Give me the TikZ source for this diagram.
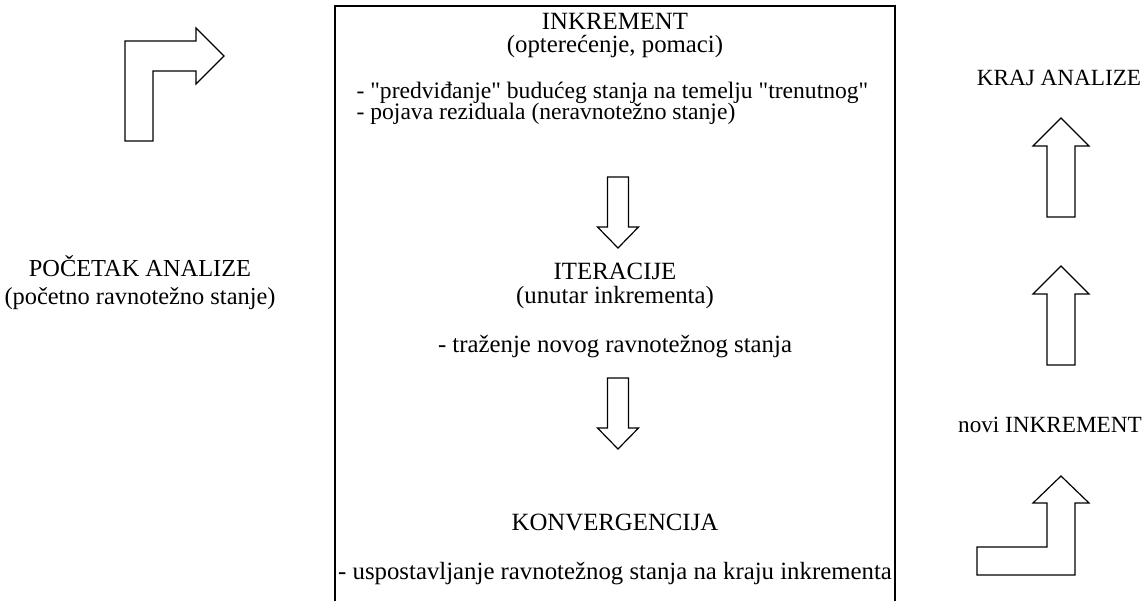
\documentclass[tikz,border=0pt]{standalone}
\usepackage{fontspec}
\setmainfont{Liberation Serif}
\begin{document}
\begin{tikzpicture}[x=0.5pt,y=-0.5pt,line join=miter,line width=0.6pt,font=\fontsize{12.4}{14}\selectfont]
	%%%%%%%%%STRELICE
	\tikzset{strelica-dolje/.pic={
			\draw(-10.5,0)--(10.5,0)--(10.5,50)--(20.5,50)--(0,71)--(-20.5,50)--(-10.5,50)--cycle;
	}}
	\tikzset{strelica-gore/.pic={
			\draw(0,0)--(28,28)--(14,28)--(14,99)--(-14,99)--(-14,28)--(-28,28)--cycle;
	}}
	\tikzset{tekst/.style={anchor=base,inner sep=0pt},
		desno/.style={tekst,font=\fontsize{11.6}{13}\selectfont},
		alineja/.style={tekst,anchor=base west,font=\fontsize{11.8}{13}\selectfont}}
	\useasboundingbox(0,0)rectangle(1148,601);
	%%%%%%%%%%%%%%%%%%%POCETAK
	\draw(125,141)--(125,41)--(196,41)--(196,28)--(224,56)--(196,84)--(196,71)--(153,71)--(153,141)--cycle;
	\node[tekst,font=\fontsize{12.2}{14}\selectfont](pocetak)at(140,276){POČETAK ANALIZE};
	\node[tekst,font=\fontsize{12.2}{14}\selectfont](pocetak2)at(140,304){(početno ravnotežno stanje)};
	%%%%%%%%%%%%%%%%%%%OKVIR
	\draw(335,601)--(335,6)--(895,6)--(895,601);
	\node[tekst](inkrement)at(615,29){INKREMENT};
	\node[tekst](inkrement2)at(615,52){(opterećenje, pomaci)};
	\node[alineja](predv)at(356,98){- \textquotedbl predviđanje\textquotedbl{} budućeg stanja na temelju \textquotedbl trenutnog\textquotedbl};
	\node[alineja](rezid)at(356,119){- pojava reziduala (neravnotežno stanje)};
	\path(618,177)pic{strelica-dolje};
	\node[tekst](iteracije)at(615,279){ITERACIJE};
	\node[tekst](iteracije2)at(615,303){(unutar inkrementa)};
	\node[tekst](trazenje)at(615,352){- traženje novog ravnotežnog stanja};
	\path(618,378)pic{strelica-dolje};
	\node[tekst](konverg)at(615,530){KONVERGENCIJA};
	\node[tekst](uspost)at(615,579){- uspostavljanje ravnotežnog stanja na kraju inkrementa};
	%%%%%%%%%%%%%%%%%%%KRAJ
	\node[desno](kraj)at(1059,85){KRAJ ANALIZE};
	\path(1061,118)pic{strelica-gore}(1061,266)pic{strelica-gore};
	\node[desno](novi)at(1050,432){novi INKREMENT};
	\draw(977,575)--(1075,575)--(1075,503)--(1089,503)--(1061,476)--(1033,503)--(1047,503)--(1047,547)--(977,547)--cycle;
\end{tikzpicture}
\end{document}
